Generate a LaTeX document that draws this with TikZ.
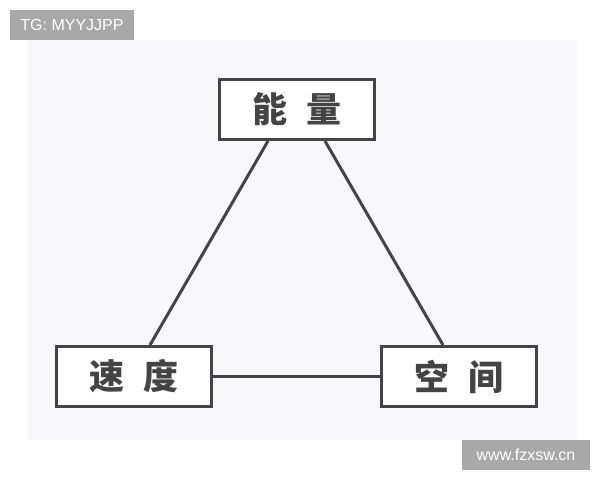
\documentclass[tikz,border=0pt]{standalone}
\usepackage{fontspec}
\setmainfont{Liberation Sans}
\newfontfamily\cjk{Noto Sans CJK SC}[BoldFont={Noto Sans CJK SC Black}]
\definecolor{ink}{HTML}{444444}
\definecolor{tagbg}{HTML}{A8A8A8}
\definecolor{panel}{HTML}{F8F8FA}
\begin{document}
\begin{tikzpicture}[x=1pt,y=-1pt,
  box/.style={draw=ink,line width=3pt,fill=white,minimum width=155pt,minimum height=60pt,inner sep=0pt,
    font=\cjk\bfseries\fontsize{35}{37}\selectfont,text=ink},
  link/.style={draw=ink,line width=3pt},
  tag/.style={fill=tagbg,text=white,inner sep=0pt,font=\fontsize{16}{18}\selectfont}]
\useasboundingbox (0,0) rectangle (600,480);
\fill[white] (0,0) rectangle (600,480);
\fill[panel] (27,40) rectangle (577,440);
\node[tag,minimum width=124pt,minimum height=30pt] (tg) at (72,25) {TG: MYYJJPP};
\node[box] (ne) at (297,109.5) {能\hspace{0.55em}量};
\node[box] (sd) at (134,376.5) {速\hspace{0.55em}度};
\node[box] (kj) at (459,376.5) {空\hspace{0.55em}间};
\draw[link] (ne.south -| 268,0) -- (sd.north -| 150,0);
\draw[link] (ne.south -| 325,0) -- (kj.north -| 443,0);
\draw[link] (sd.east) -- (kj.west);
\node[tag,minimum width=128pt,minimum height=30pt] (wm) at (526,455) {www.fzxsw.cn};
\end{tikzpicture}
\end{document}
